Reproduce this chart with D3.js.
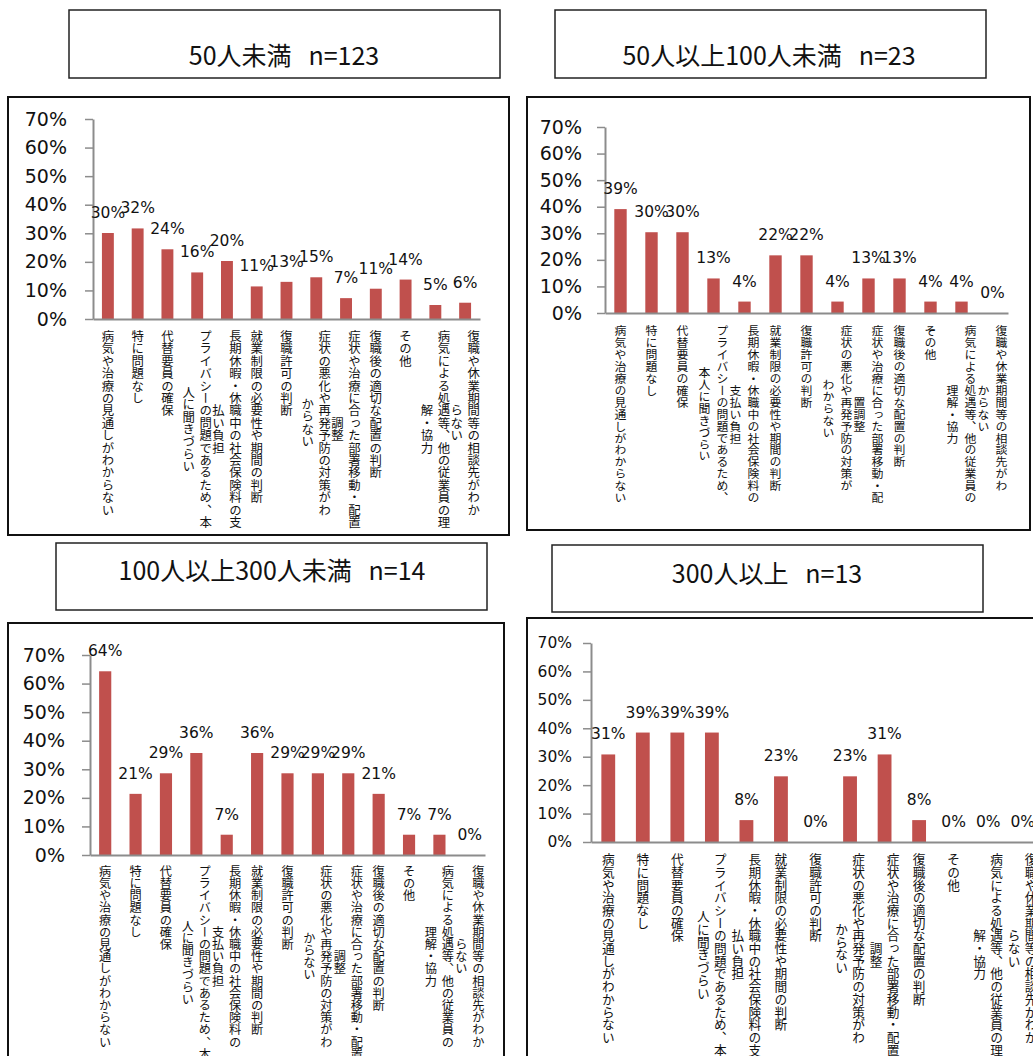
<!DOCTYPE html>
<html><head><meta charset="utf-8">
<script src="https://cdn.jsdelivr.net/npm/d3@7"></script>
<style>body{margin:0;background:#fff}svg{display:block}</style>
</head><body>
<script>
// ---- data ----
const categories = [
  "病気や治療の見通しがわからない",
  "特に問題なし",
  "代替要員の確保",
  "プライバシーの問題であるため、本人に聞きづらい",
  "長期休暇・休職中の社会保険料の支払い負担",
  "就業制限の必要性や期間の判断",
  "復職許可の判断",
  "症状の悪化や再発予防の対策がわからない",
  "症状や治療に合った部署移動・配置調整",
  "復職後の適切な配置の判断",
  "その他",
  "病気による処遇等、他の従業員の理解・協力",
  "復職や休業期間等の相談先がわからない"
];
const panelTitles = ["50人未満   n=123", "50人以上100人未満   n=23", "100人以上300人未満   n=14", "300人以上   n=13"];
const valuesUnder50 = [30.1, 31.7, 24.4, 16.3, 20.3, 11.4, 13.0, 14.6, 7.3, 10.6, 13.8, 4.9, 5.7];
const values50to100 = [39.1, 30.4, 30.4, 13.0, 4.3, 21.7, 21.7, 4.3, 13.0, 13.0, 4.3, 4.3, 0];
const values100to300 = [64.3, 21.4, 28.6, 35.7, 7.1, 35.7, 28.6, 28.6, 28.6, 21.4, 7.1, 7.1, 0];
const values300plus = [30.8, 38.5, 38.5, 38.5, 7.7, 23.1, 0, 23.1, 30.8, 7.7, 0, 0, 0];
const yTickValues = [0, 10, 20, 30, 40, 50, 60, 70];
// category-label line breaks (characters in first line; 0 = no break)
const wrapA = [0, 0, 0, 16, 16, 0, 0, 15, 16, 0, 0, 16, 15];
const wrapB = [0, 0, 0, 15, 15, 0, 0, 14, 15, 0, 0, 15, 14];
const wrapC = [0, 0, 0, 16, 15, 0, 0, 15, 16, 0, 0, 15, 15];

// ---- layout ----
const panels = [
  {title: panelTitles[0], values: valuesUnder50, wrap: wrapA,
   box: [8, 97, 501, 438], tbox: [69, 10, 431, 68], tx: 284, ty: 65,
   ax0: 93, ax1: 480, ay0: 319, ay1: 119, tickFs: 19, tickPad: 18, valFs: 15.5, catFs: 12.4, catTop: 330, colGap: 17},
  {title: panelTitles[1], values: values50to100, wrap: wrapB,
   box: [527, 97, 503, 433], tbox: [555, 10, 431, 68], tx: 769, ty: 65,
   ax0: 605, ax1: 1008, ay0: 313, ay1: 127, tickFs: 19, tickPad: 15, valFs: 15.5, catFs: 11.9, catTop: 325, colGap: 18},
  {title: panelTitles[2], values: values100to300, wrap: wrapC,
   box: [8, 623, 496, 470], tbox: [56, 543, 431, 67], tx: 272, ty: 580,
   ax0: 90, ax1: 485, ay0: 855, ay1: 655, tickFs: 19, tickPad: 17, valFs: 15.5, catFs: 12.2, catTop: 865, colGap: 17},
  {title: panelTitles[3], values: values300plus, wrap: wrapA,
   box: [527, 618, 530, 470], tbox: [552, 545, 431, 67], tx: 767, ty: 583,
   ax0: 591, ax1: 1040, ay0: 842, ay1: 643, tickFs: 15.5, tickPad: 11, valFs: 15.5, catFs: 12.7, catTop: 853, colGap: 17}
];

const W = 1033, H = 1056;
const svg = d3.select("body").append("svg").attr("width", W).attr("height", H);
const latin = "'DejaVu Sans', 'Noto Sans CJK JP', sans-serif";
const cjk = "'Noto Sans CJK JP', sans-serif";
const axisColor = "#8c8c8c";
const barColor = "#C0504D";

panels.forEach(p => {
  const g = svg.append("g");
  // boxes
  g.append("rect").attr("x", p.box[0]).attr("y", p.box[1]).attr("width", p.box[2]).attr("height", p.box[3])
    .attr("fill", "none").attr("stroke", "#111").attr("stroke-width", 2);
  g.append("rect").attr("x", p.tbox[0]).attr("y", p.tbox[1]).attr("width", p.tbox[2]).attr("height", p.tbox[3])
    .attr("fill", "#fff").attr("stroke", "#222").attr("stroke-width", 1.5);
  g.append("text").attr("x", p.tx).attr("y", p.ty).attr("text-anchor", "middle")
    .style("font-family", cjk).style("font-size", "25px").style("white-space", "pre").attr("fill", "#111")
    .text(p.title);

  const x = d3.scaleBand().domain(d3.range(categories.length)).range([p.ax0, p.ax1])
    .paddingInner(0.6).paddingOuter(0.3);
  const y = d3.scaleLinear().domain([0, 70]).range([p.ay0, p.ay1]);

  // bars
  g.selectAll("rect.bar").data(p.values).join("rect").attr("class", "bar")
    .attr("x", (d, i) => x(i)).attr("width", x.bandwidth())
    .attr("y", d => y(d)).attr("height", d => y(0) - y(d)).attr("fill", barColor);

  // y axis
  const ya = g.append("g").attr("transform", `translate(${p.ax0},0)`)
    .call(d3.axisLeft(y).tickValues(yTickValues).tickSize(8).tickSizeOuter(0).tickPadding(p.tickPad).tickFormat(d => d + "%"));
  ya.select(".domain").attr("stroke", axisColor).attr("stroke-width", 2);
  ya.selectAll(".tick line").attr("stroke", axisColor).attr("stroke-width", 1.5);
  ya.selectAll(".tick text").style("font-family", latin).style("font-size", p.tickFs + "px").attr("fill", "#111");

  // x axis line
  const xa = g.append("g").attr("transform", `translate(0,${p.ay0})`)
    .call(d3.axisBottom(x).tickSize(0).tickSizeOuter(0).tickFormat(""));
  xa.select(".domain").attr("stroke", axisColor).attr("stroke-width", 2);

  // value labels
  g.selectAll("text.val").data(p.values).join("text").attr("class", "val")
    .attr("x", (d, i) => x(i) + x.bandwidth() / 2).attr("y", d => y(d) - 15)
    .attr("text-anchor", "middle").style("font-family", latin).style("font-size", p.valFs + "px").attr("fill", "#111")
    .text(d => Math.round(d) + "%");

  // category labels (vertical)
  categories.forEach((c, i) => {
    const br = p.wrap[i];
    const lines = br ? [c.slice(0, br), c.slice(br)] : [c];
    const cx = x(i) + x.bandwidth() / 2;
    const n0 = [...lines[0]].length;
    lines.forEach((ln, k) => {
      const colX = cx + (lines.length - 1) / 2 * p.colGap - k * p.colGap;
      const off = (n0 - [...ln].length) / 2 * p.catFs;
      g.append("text").attr("x", colX).attr("y", p.catTop + (k === 0 ? 0 : off))
        .attr("writing-mode", "vertical-rl").style("writing-mode", "vertical-rl")
        .attr("text-anchor", "start")
        .style("font-family", cjk).style("font-size", p.catFs + "px").attr("fill", "#111")
        .text(ln);
    });
  });
});
</script>
</body></html>
